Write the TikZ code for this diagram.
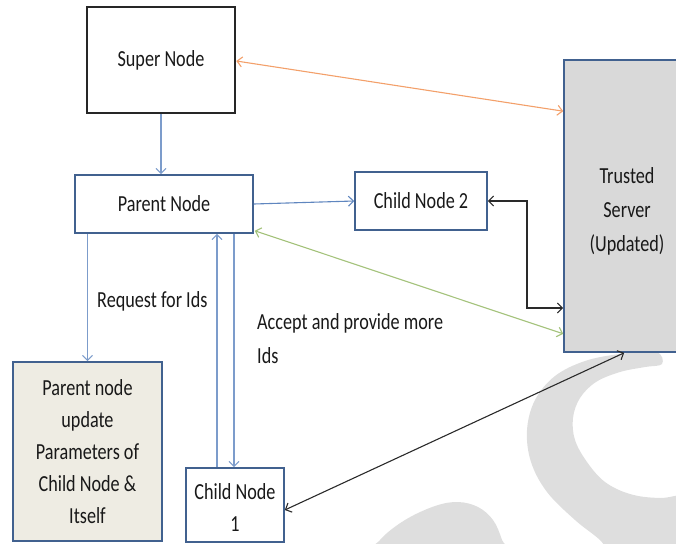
\documentclass[tikz,border=0pt]{standalone}
\usepackage{fontspec}
\setmainfont{Carlito}[FakeStretch=0.79]
\usetikzlibrary{arrows.meta,calc}
\definecolor{boxblue}{HTML}{41618F}
\definecolor{arblue}{HTML}{7C9CCB}
\definecolor{arblue2}{HTML}{5F86BF}
\definecolor{orangeln}{HTML}{F3A06A}
\definecolor{greenln}{HTML}{A3C27A}
\definecolor{darkln}{HTML}{2A2A2A}
\definecolor{servfill}{HTML}{D9D9D9}
\definecolor{updfill}{HTML}{EEECE3}
\definecolor{wmgrey}{HTML}{DEDEDE}
\newcommand\dtxt{\fontsize{23}{32}\selectfont}
\newcommand\wtxt{\fontsize{23}{34}\selectfont}
\tikzset{
  box/.style={draw=boxblue, line width=1.6pt, inner sep=0pt, align=center, font=\dtxt, text=black!90},
  arr/.style={-{Straight Barb[length=5pt,width=10pt]}, line width=1.1pt},
  darr/.style={{Straight Barb[length=5pt,width=10pt]}-{Straight Barb[length=5pt,width=10pt]}, line width=1.1pt},
  lbl/.style={font=\dtxt, text=black!90, inner sep=0pt, align=left},
}
\begin{document}
\begin{tikzpicture}[x=1pt,y=-1pt]
\useasboundingbox (0,0) rectangle (676,543);
% watermark
\fill[wmgrey] plot[smooth cycle, tension=0.6] coordinates {
 (656,352) (620,354) (585,361) (555,376) (535,400) (527,430) (531,462) (547,492) (575,520) (600,540) (625,565) (710,565) (710,497)
 (660,498) (630,494) (605,482) (587,462) (575,440) (573,418) (580,398) (596,382) (620,372) (645,367) (662,364)};
\fill[wmgrey] plot[smooth cycle, tension=0.6] coordinates {
 (366,565) (380,540) (405,520) (435,506) (458,502) (478,507) (493,520) (502,540) (508,565)};
% nodes
\node[box, draw=black!85, line width=2.6pt, minimum width=148pt, minimum height=106pt] (super) at (161,60) {Super Node};
\node[box, minimum width=178pt, minimum height=58pt] (parent) at (164,204) {Parent Node};
\node[box, minimum width=132pt, minimum height=58pt] (child2) at (421,201) {Child Node 2};
\node[box, fill=servfill, minimum width=126pt, minimum height=292pt, font=\wtxt] (trusted) at (627,206)
  {\raisebox{-5pt}[\height][\depth]{\begin{tabular}{@{}c@{}}Trusted\\Server\\(Updated)\end{tabular}}};
\node[box, fill=updfill, minimum width=149pt, minimum height=179pt] (upd) at (87.5,451.5) {Parent node\\update\\Parameters of\\Child Node \&\\Itself};
\node[box, fill=white, minimum width=98pt, minimum height=74pt] (child1) at (235,505)
  {\raisebox{-4pt}[\height][\depth]{\begin{tabular}{@{}c@{}}Child Node\\1\end{tabular}}};
% labels
\node[lbl, anchor=west] (req) at (97,301) {Request for Ids};
\node[lbl, font=\wtxt, anchor=north west] (acc) at (257,313) {Accept and provide more\\Ids};
% connectors
\draw[arr, arblue] (super.south) -- (super.south |- parent.north);
\draw[arr, arblue2] (parent.east) -- (child2.west);
\draw[arr, arblue] (upd.north |- parent.south) -- (upd.north);
\draw[arr, arblue] ([xshift=-18pt]child1.north) -- ([xshift=-18pt]child1.north |- parent.south);
\draw[arr, arblue] ([xshift=-1pt]child1.north |- parent.south) -- ([xshift=-1pt]child1.north);
\draw[darr, orangeln] ([yshift=-1pt]super.east) -- ([yshift=-52pt]trusted.north west);
\draw[darr, greenln] ([yshift=3pt,xshift=1pt]parent.south east) -- ([yshift=19pt]trusted.south west);
\coordinate (elb) at (527,308);
\draw[darr, darkln] (child2.east) -| (elb) -- (trusted.west |- elb);
\draw[darr, darkln] ([yshift=-5pt]child1.east) -- ([xshift=61pt]trusted.south west);
\end{tikzpicture}
\end{document}
